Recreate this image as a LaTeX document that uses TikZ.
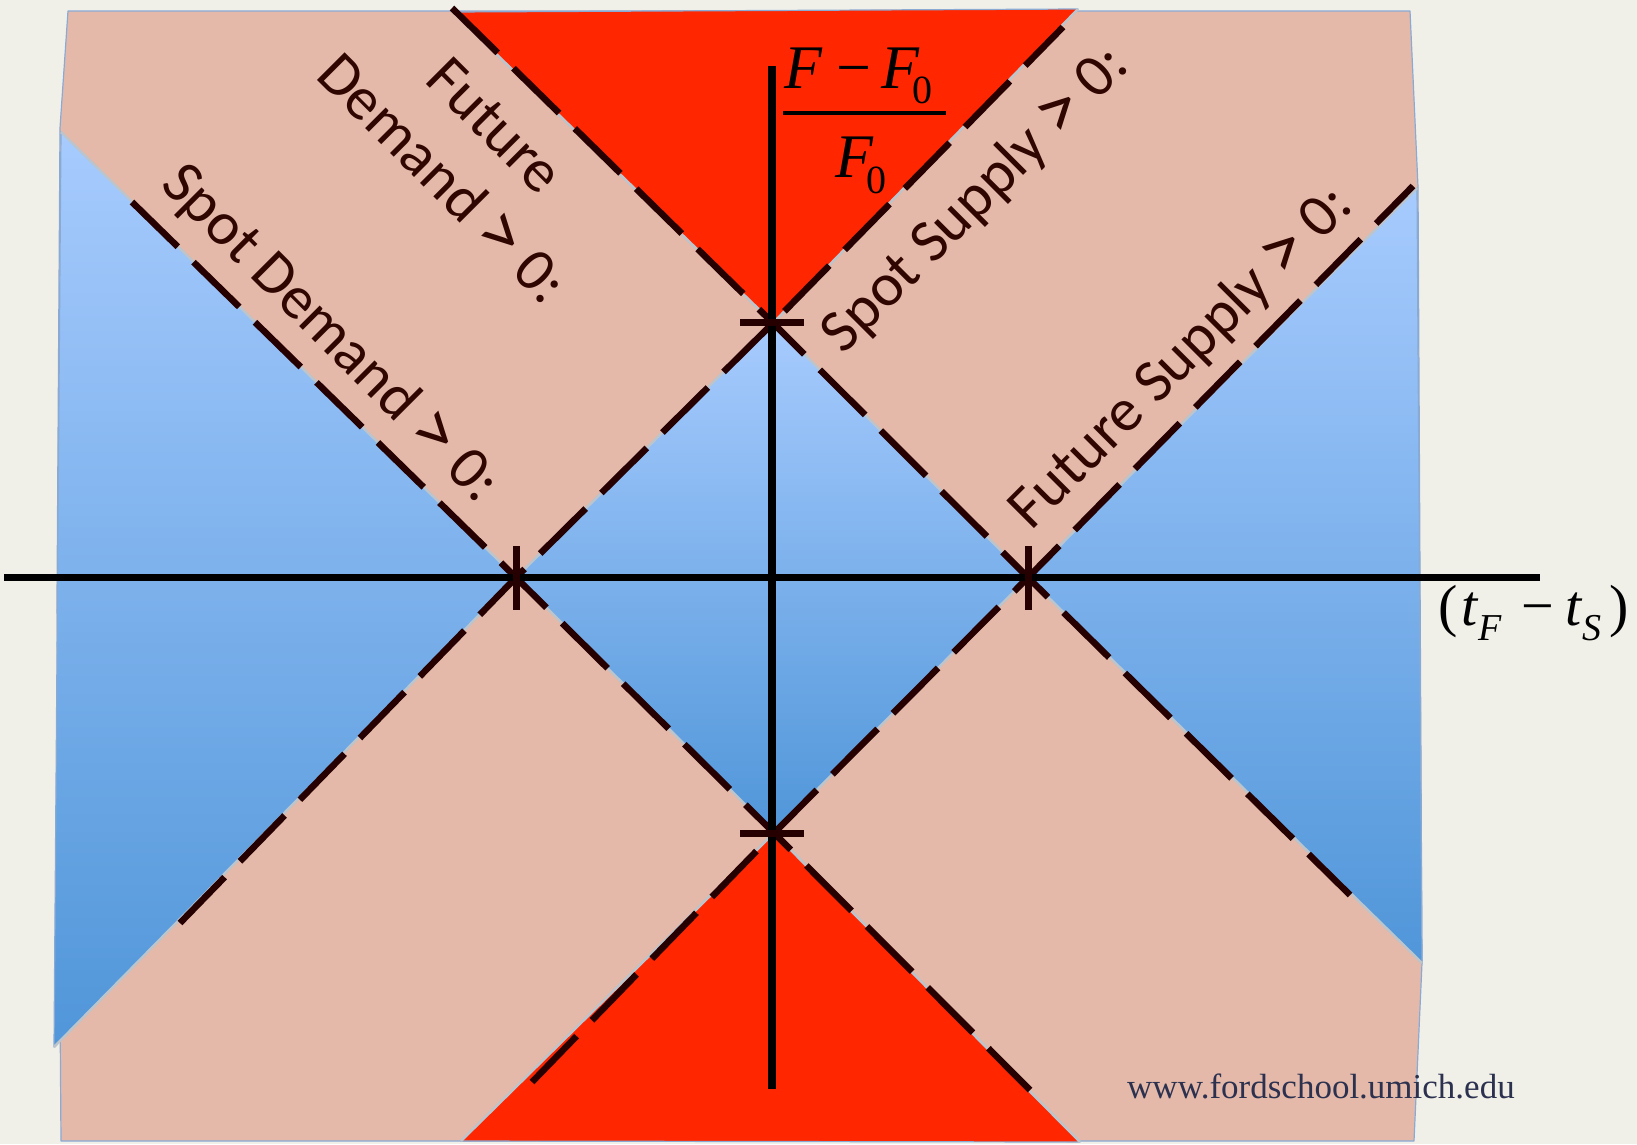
\documentclass[tikz,border=0pt]{standalone}
\usepackage{fontspec}
\usepackage{graphicx}
\setmainfont{Liberation Serif}
\newfontfamily\carl{Carlito}
\newcommand{\gtsym}{\raisebox{-0.05em}{\scalebox{1.3}{>}}}
\definecolor{bg}{HTML}{F0F0E8}
\definecolor{pinkc}{HTML}{E4B9A9}
\definecolor{redc}{HTML}{FF2600}
\definecolor{bluetop}{HTML}{A7CBFE}
\definecolor{bluebot}{HTML}{5096D9}
\definecolor{dashc}{HTML}{260000}
\definecolor{txtc}{HTML}{2F0600}
\definecolor{edgec}{HTML}{8AAAD4}
\definecolor{underc}{HTML}{BCC4CC}
\definecolor{urlc}{HTML}{2C3150}
\begin{document}
\begin{tikzpicture}[x=1pt,y=-1pt,
  region/.style={draw=edgec, line width=1.2pt, line join=round},
  bluereg/.style={region, top color=bluetop, bottom color=bluebot},
  redreg/.style={region, fill=redc},
  boundary/.style={draw=dashc, line width=6.5pt, dash pattern=on 64pt off 22pt},
  under/.style={draw=underc, line width=2.5pt},
  axisline/.style={draw=black, line width=7.5pt},
  tickmark/.style={draw=dashc, line width=7pt},
  lab/.style={text=txtc, font=\carl\fontsize{61}{74}\selectfont, inner sep=0pt, align=center},
  mathf/.style={font=\fontsize{62}{62}\selectfont, inner sep=0pt, text=black},
  axlab/.style={font=\fontsize{58}{58}\selectfont, inner sep=0pt, text=black},
]
% background / bounding box
\fill[bg] (0,0) rectangle (1637,1144);
\useasboundingbox (0,0) rectangle (1637,1144);

% key points
\coordinate (T) at (773,323);
\coordinate (R) at (1028,577.5);
\coordinate (B) at (774,833);
\coordinate (L) at (516,577.5);

% outer corners
\coordinate (P1) at (68,11);
\coordinate (P2) at (1410,11);
\coordinate (P3) at (1418,187);
\coordinate (P4) at (1422,963);
\coordinate (P5) at (1414,1141);
\coordinate (P6) at (61,1141);
\coordinate (P7) at (57,600);
\coordinate (P8) at (60,128);

% region corners
\coordinate (BL1) at (61,132);
\coordinate (BL2) at (54,1047);
\coordinate (BR1) at (1417,188);
\coordinate (BR2) at (1422,963);
\coordinate (RT1) at (453,12);
\coordinate (RT2) at (1078,9);
\coordinate (RB1) at (461,1141);
\coordinate (RB2) at (1080,1142);

% pink base
\fill[pinkc, region] (P1) -- (P2) -- (P3) -- (P4) -- (P5) -- (P6) -- (P7) -- (P8) -- cycle;

% blue regions
\path[bluereg] (BL1) -- (L) -- (BL2) -- cycle;
\path[bluereg] (BR1) -- (R) -- (BR2) -- cycle;
\path[bluereg] (T) -- (R) -- (B) -- (L) -- cycle;

% red regions
\path[redreg] (RT1) -- (RT2) -- (T) -- cycle;
\path[redreg] (RB1) -- (RB2) -- (B) -- cycle;

% boundary lines: underlay
\draw[under] (RT1) -- (T) -- (R) -- (BR2);
\draw[under] (BL1) -- (L) -- (B) -- (RB2);
\draw[under] (BL2) -- (L) -- (T) -- (RT2);
\draw[under] (RB1) -- (B) -- (R) -- (BR1);

% dashed boundary lines
\coordinate (D1s) at (452,8);
\coordinate (D1e) at (1350,895);
\coordinate (D2s) at (132,202);
\coordinate (D2e) at (1030,1090);
\coordinate (D3s) at (180,923);
\coordinate (D3e) at (1063,27);
\coordinate (D4s) at (532,1082);
\coordinate (D4e) at (1413,186);
\draw[boundary] (D1s) -- (T) -- (R) -- (D1e);
\draw[boundary] (D2s) -- (L) -- (B) -- (D2e);
\draw[boundary] (D3s) -- (L) -- (T) -- (D3e);
\draw[boundary] (D4s) -- (B) -- (R) -- (D4e);

% axes
\coordinate (XA) at (4,577.5);
\coordinate (XB) at (1540,577.5);
\coordinate (YA) at (772,66);
\coordinate (YB) at (772,1089);
\draw[axisline] (XA) -- (XB);
\draw[axisline] (YA) -- (YB);

% tick marks
\coordinate (tT1) at (740,322); \coordinate (tT2) at (804,322);
\coordinate (tB1) at (740,833); \coordinate (tB2) at (804,833);
\coordinate (tL1) at (516,546); \coordinate (tL2) at (516,610);
\coordinate (tR1) at (1028,546); \coordinate (tR2) at (1028,610);
\draw[tickmark] (tT1) -- (tT2);
\draw[tickmark] (tB1) -- (tB2);
\draw[tickmark] (tL1) -- (tL2);
\draw[tickmark] (tR1) -- (tR2);

% region labels
\node[lab, rotate=-45] (fd) at (468,153) {Future\\Demand \gtsym{} 0:};
\node[lab, rotate=-45] (sd) at (330,334) {Spot Demand \gtsym{} 0:};
\node[lab, rotate=45] (ss) at (976,200) {Spot Supply \gtsym{} 0:};
\node[lab, rotate=45] (fs) at (1182,358) {Future Supply \gtsym{} 0:};

% vertical axis label (fraction)
\node[mathf, anchor=base west] (num) at (784,88)
  {\textit{F}\hspace{14pt}−\hspace{10pt}\textit{F}\hspace{-7pt}\raisebox{-15pt}{\fontsize{40}{40}\selectfont 0}};
\coordinate (FB1) at (783,113);
\coordinate (FB2) at (946,113);
\draw[black, line width=3.8pt] (FB1) -- (FB2);
\node[mathf, anchor=base west] (den) at (835,177)
  {\textit{F}\hspace{-7pt}\raisebox{-16pt}{\fontsize{40}{40}\selectfont 0}};

% horizontal axis label
\node[axlab, anchor=base west] (xl) at (1438,625)
  {(\hspace{4pt}\textit{t}\raisebox{-15pt}{\fontsize{38}{38}\selectfont\textit{F}}\hspace{19pt}−\hspace{11pt}\textit{t}\raisebox{-15pt}{\fontsize{38}{38}\selectfont\textit{S}}\hspace{8pt})};

% watermark
\node[anchor=base west, font=\fontsize{35}{35}\selectfont, text=urlc, inner sep=0pt] (url) at (1127,1098) {www.fordschool.umich.edu};
\end{tikzpicture}
\end{document}
